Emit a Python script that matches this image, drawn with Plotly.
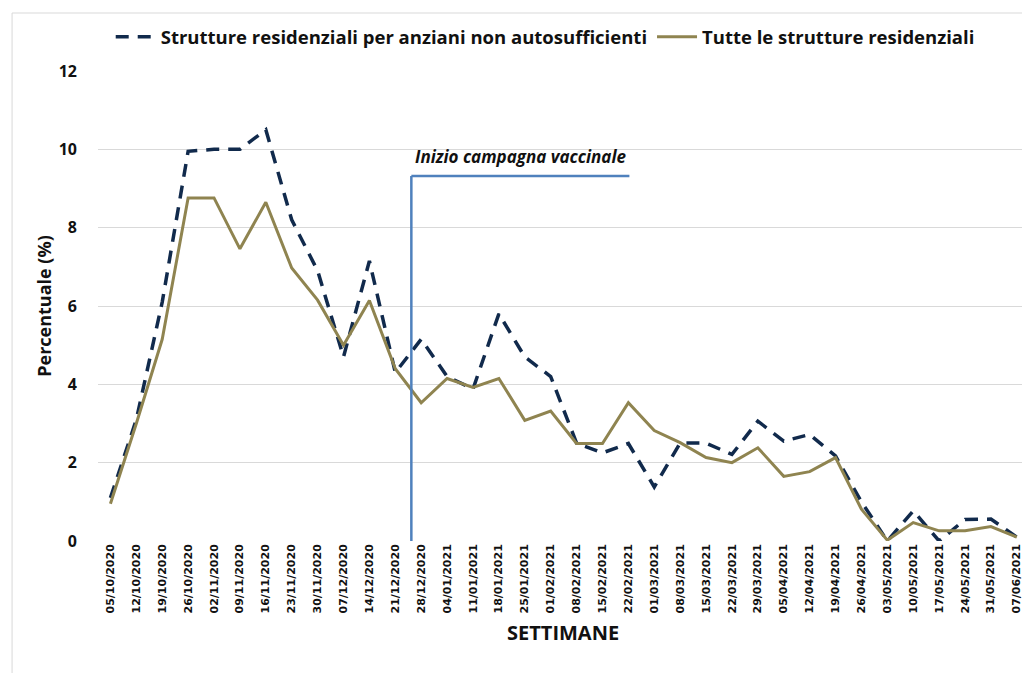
import plotly.graph_objects as go

settimane = ["05/10/2020", "12/10/2020", "19/10/2020", "26/10/2020", "02/11/2020", "09/11/2020",
             "16/11/2020", "23/11/2020", "30/11/2020", "07/12/2020", "14/12/2020", "21/12/2020",
             "28/12/2020", "04/01/2021", "11/01/2021", "18/01/2021", "25/01/2021", "01/02/2021",
             "08/02/2021", "15/02/2021", "22/02/2021", "01/03/2021", "08/03/2021", "15/03/2021",
             "22/03/2021", "29/03/2021", "05/04/2021", "12/04/2021", "19/04/2021", "26/04/2021",
             "03/05/2021", "10/05/2021", "17/05/2021", "24/05/2021", "31/05/2021", "07/06/2021"]

anziani = [1.1, 3.1, 6.1, 9.95, 10.0, 10.0, 10.5, 8.2, 6.9, 4.7, 7.15, 4.3,
           5.15, 4.2, 3.88, 5.8, 4.7, 4.2, 2.5, 2.25, 2.49, 1.38, 2.5, 2.5,
           2.21, 3.06, 2.55, 2.72, 2.17, 1.0, 0.0, 0.77, 0.0, 0.55, 0.56, 0.1]

tutte = [0.95, 3.0, 5.15, 8.76, 8.76, 7.46, 8.65, 6.97, 6.15, 5.0, 6.14, 4.4,
         3.53, 4.15, 3.92, 4.15, 3.08, 3.32, 2.49, 2.49, 3.53, 2.82, 2.51, 2.13,
         2.0, 2.38, 1.65, 1.77, 2.13, 0.81, 0.02, 0.47, 0.26, 0.26, 0.37, 0.1]

nome_anziani = "Strutture residenziali per anziani non autosufficienti"
nome_tutte = "Tutte le strutture residenziali"
titolo_x = "SETTIMANE"
titolo_y = "Percentuale (%)"

# vaccination campaign marker (category index position, height in %)
vacc_x0, vacc_x1, vacc_y = 11.62, 20.04, 9.32
vacc_label = "Inizio campagna vaccinale"

NAVY = "#112a4c"
OLIVE = "#8f8450"
BLUE = "#4f81bd"
TXT = "#111111"

fig = go.Figure()
fig.add_trace(go.Scatter(x=settimane, y=anziani, name=nome_anziani, mode="lines",
                         line=dict(color=NAVY, width=3.5, dash="13px,9px")))
fig.add_trace(go.Scatter(x=settimane, y=tutte, name=nome_tutte, mode="lines",
                         line=dict(color=OLIVE, width=3)))

fig.add_shape(type="line", xref="x", yref="y", x0=vacc_x0, x1=vacc_x0, y0=0, y1=vacc_y,
              line=dict(color=BLUE, width=2.5))
fig.add_shape(type="line", xref="x", yref="y", x0=vacc_x0, x1=vacc_x1, y0=vacc_y, y1=vacc_y,
              line=dict(color=BLUE, width=2.5))
fig.add_annotation(x=(vacc_x0 + vacc_x1) / 2, y=vacc_y + 0.5, xref="x", yref="y",
                   text="<b><i>" + vacc_label + "</i></b>", showarrow=False,
                   font=dict(family="Open Sans", size=17, color=TXT))

# x-axis title placed as annotation (close under the rotated tick labels)
fig.add_annotation(x=0.503, y=-0.195, xref="paper", yref="paper", yanchor="middle",
                   text="<b>" + titolo_x + "</b>", showarrow=False,
                   font=dict(family="Open Sans", size=20, color=TXT))

# outer frame
fig.add_shape(type="rect", xref="paper", yref="paper", x0=-0.093, x1=1.2, y0=-0.4, y1=1.1234,
              line=dict(color="#d9d9d9", width=1), fillcolor="rgba(0,0,0,0)", layer="below")

fig.update_layout(
    width=1014, height=665,
    margin=dict(l=90, r=0, t=63, b=132),
    paper_bgcolor="white", plot_bgcolor="white",
    font=dict(family="Open Sans", color=TXT),
    showlegend=True,
    legend=dict(orientation="h", x=0.484, xanchor="center", y=1.072, yanchor="middle",
                font=dict(family="Open Sans", size=18.5, color=TXT, weight="bold"),
                itemwidth=40, tracegroupgap=0, bgcolor="rgba(0,0,0,0)"),
    xaxis=dict(type="category", range=[-0.48, 35.2], tickangle=-90, showgrid=False,
               showline=False, zeroline=False, ticks="",
               tickfont=dict(family="DejaVu Sans", size=11, weight="bold", color=TXT)),
    yaxis=dict(range=[0, 12], dtick=2, showgrid=True, gridcolor="#d9d9d9", gridwidth=1,
               zeroline=False, showline=False, ticks="", ticklabelstandoff=20,
               tickfont=dict(family="Open Sans", size=16, weight="bold", color=TXT),
               title=dict(text="<b>" + titolo_y + "</b>", font=dict(family="Open Sans", size=18, color=TXT),
                          standoff=2)),
)

fig.write_html("out.html")
